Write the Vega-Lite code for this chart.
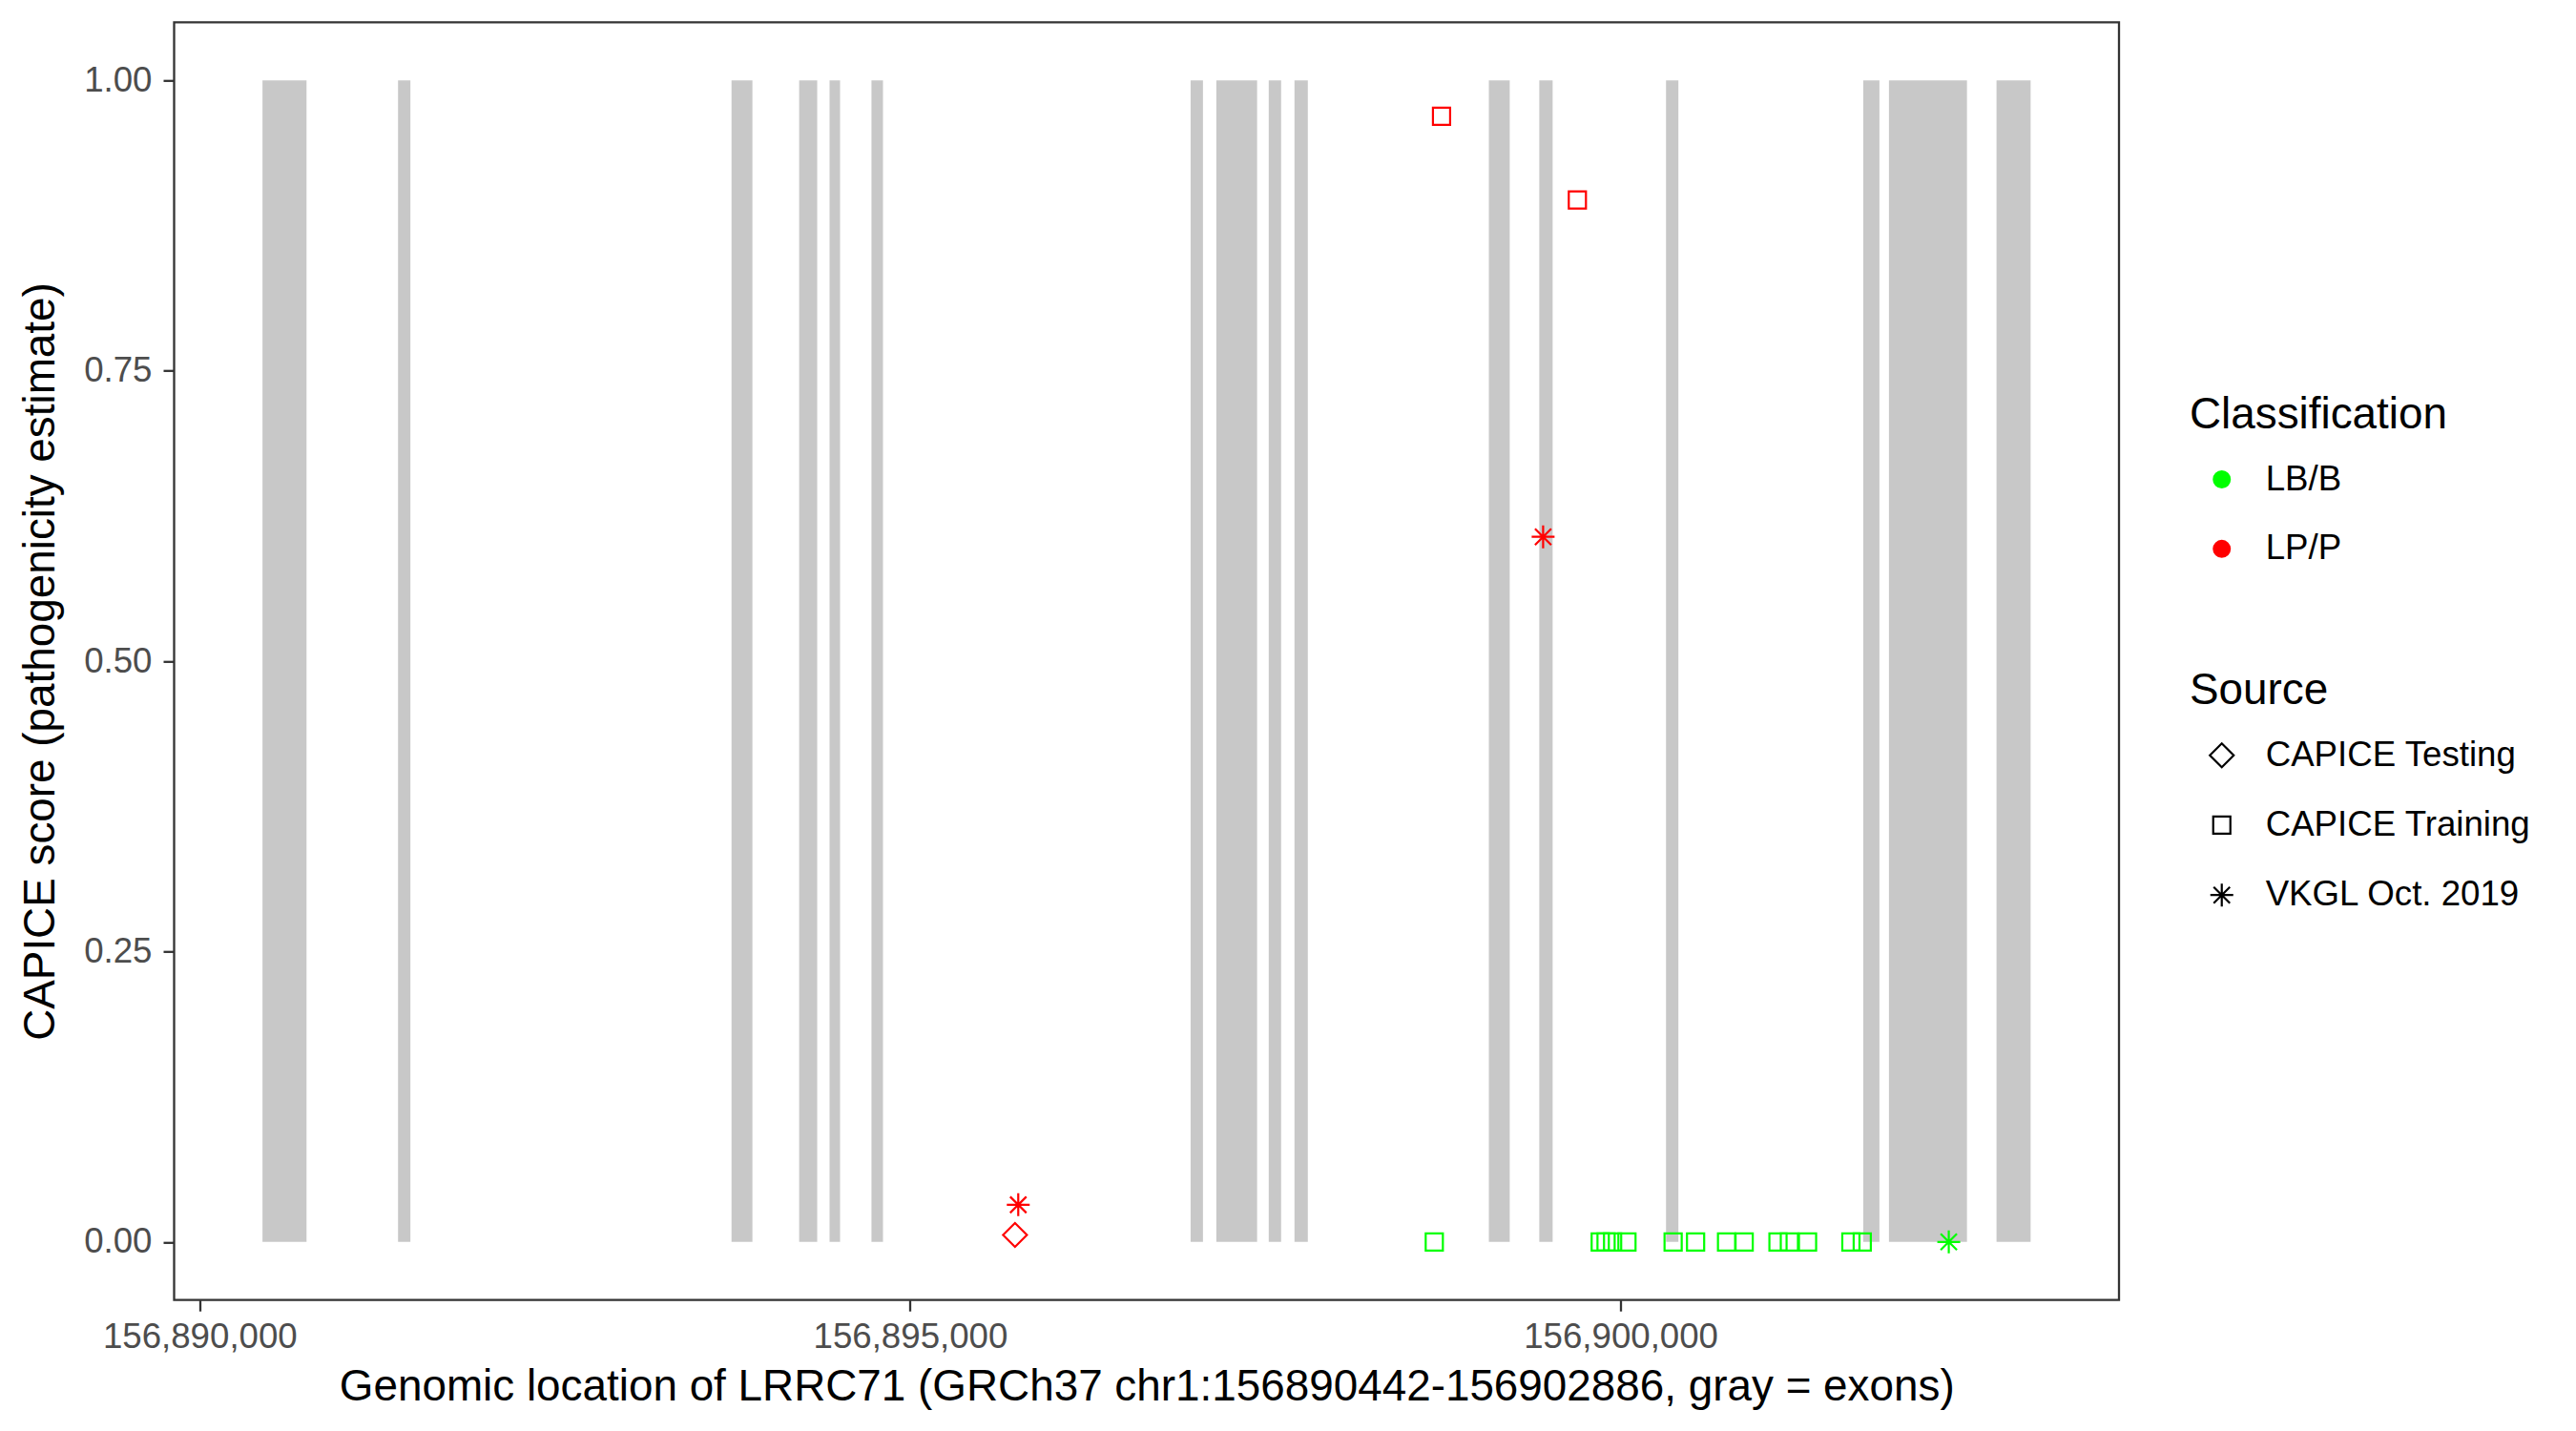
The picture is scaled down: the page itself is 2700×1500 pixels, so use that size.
{
  "$schema": "https://vega.github.io/schema/vega-lite/v6.json",
  "width": 2038.5,
  "height": 1339.4,
  "autosize": {"type": "none"},
  "padding": {"left": 182.5, "top": 23.3, "right": 479, "bottom": 137.3},
  "background": "white",
  "config": {
    "font": "Liberation Sans",
    "view": {"stroke": "#333333", "strokeWidth": 2.3},
    "axis": {
      "grid": false,
      "domain": false,
      "tickColor": "#333333",
      "tickWidth": 2.3,
      "tickSize": 11.5,
      "labelFont": "Liberation Sans",
      "labelFontSize": 36.67,
      "labelColor": "#4D4D4D",
      "labelLimit": 0,
      "titleFont": "Liberation Sans",
      "titleFontSize": 45.83,
      "titleFontWeight": "normal",
      "titleColor": "black",
      "titleLimit": 0
    },
    "legend": {
      "padding": 0,
      "titleFont": "Liberation Sans",
      "titleFontSize": 45.83,
      "titleFontWeight": "normal",
      "titleColor": "black",
      "titleLimit": 0,
      "labelFont": "Liberation Sans",
      "labelFontSize": 36.67,
      "labelColor": "black",
      "labelLimit": 0,
      "titlePadding": 25.7,
      "rowPadding": 35.2,
      "symbolOffset": 15.4,
      "labelOffset": 27.6
    }
  },
  "datasets": {
    "exons": [
      {"start": 156890442, "end": 156890752},
      {"start": 156891396, "end": 156891483},
      {"start": 156893743, "end": 156893890},
      {"start": 156894219, "end": 156894346},
      {"start": 156894433, "end": 156894507},
      {"start": 156894728, "end": 156894809},
      {"start": 156896974, "end": 156897061},
      {"start": 156897155, "end": 156897442},
      {"start": 156897524, "end": 156897611},
      {"start": 156897705, "end": 156897799},
      {"start": 156899073, "end": 156899220},
      {"start": 156899428, "end": 156899522},
      {"start": 156900320, "end": 156900407},
      {"start": 156901708, "end": 156901822},
      {"start": 156901889, "end": 156902438},
      {"start": 156902646, "end": 156902886}
    ],
    "variants": [
      {"pos": 156898740, "score": 0.969, "classification": "LP/P", "source": "CAPICE Training"},
      {"pos": 156899696, "score": 0.897, "classification": "LP/P", "source": "CAPICE Training"},
      {"pos": 156899455, "score": 0.607, "classification": "LP/P", "source": "VKGL Oct. 2019"},
      {"pos": 156895761, "score": 0.032, "classification": "LP/P", "source": "VKGL Oct. 2019"},
      {"pos": 156895738, "score": 0.006, "classification": "LP/P", "source": "CAPICE Testing"},
      {"pos": 156898689, "score": 0.0, "classification": "LB/B", "source": "CAPICE Training"},
      {"pos": 156899857, "score": 0.0, "classification": "LB/B", "source": "CAPICE Training"},
      {"pos": 156899898, "score": 0.0, "classification": "LB/B", "source": "CAPICE Training"},
      {"pos": 156899944, "score": 0.0, "classification": "LB/B", "source": "CAPICE Training"},
      {"pos": 156900045, "score": 0.0, "classification": "LB/B", "source": "CAPICE Training"},
      {"pos": 156900370, "score": 0.0, "classification": "LB/B", "source": "CAPICE Training"},
      {"pos": 156900528, "score": 0.0, "classification": "LB/B", "source": "CAPICE Training"},
      {"pos": 156900746, "score": 0.0, "classification": "LB/B", "source": "CAPICE Training"},
      {"pos": 156900870, "score": 0.0, "classification": "LB/B", "source": "CAPICE Training"},
      {"pos": 156901108, "score": 0.0, "classification": "LB/B", "source": "CAPICE Training"},
      {"pos": 156901188, "score": 0.0, "classification": "LB/B", "source": "CAPICE Training"},
      {"pos": 156901316, "score": 0.0, "classification": "LB/B", "source": "CAPICE Training"},
      {"pos": 156901621, "score": 0.0, "classification": "LB/B", "source": "CAPICE Training"},
      {"pos": 156901701, "score": 0.0, "classification": "LB/B", "source": "CAPICE Training"},
      {"pos": 156902310, "score": 0.0, "classification": "LB/B", "source": "VKGL Oct. 2019"}
    ]
  },
  "layer": [
    {
      "data": {"name": "exons"},
      "mark": {"type": "rect", "color": "#C8C8C8"},
      "encoding": {
        "x": {
          "field": "start",
          "type": "quantitative",
          "scale": {"domain": [156889820, 156903508], "nice": false, "zero": false},
          "axis": {
            "title": "Genomic location of LRRC71 (GRCh37 chr1:156890442-156902886, gray = exons)",
            "values": [156890000, 156895000, 156900000],
            "format": ",d",
            "labelFlush": false,
            "labelOverlap": false,
            "labelPadding": 9.5,
            "titlePadding": 11
          }
        },
        "x2": {"field": "end"},
        "y": {
          "datum": 0,
          "type": "quantitative",
          "scale": {"domain": [-0.05, 1.05], "nice": false, "zero": false},
          "axis": {
            "title": "CAPICE score (pathogenicity estimate)",
            "values": [0, 0.25, 0.5, 0.75, 1],
            "format": ".2f",
            "labelPadding": 12,
            "titlePadding": 21
          }
        },
        "y2": {"datum": 1}
      }
    },
    {
      "data": {"name": "variants"},
      "mark": {"type": "point", "filled": false, "size": 400, "strokeWidth": 2.2, "opacity": 1},
      "encoding": {
        "x": {"field": "pos", "type": "quantitative"},
        "y": {"field": "score", "type": "quantitative"},
        "color": {
          "field": "classification",
          "type": "nominal",
          "scale": {"domain": ["LB/B", "LP/P"], "range": ["#00FF00", "#FF0000"]},
          "legend": {
            "title": "Classification",
            "orient": "none",
            "legendX": 2112.5,
            "legendY": 389.4,
            "rowPadding": 23.8,
            "symbolSize": 90.25,
            "symbolStrokeWidth": 9.5,
            "symbolType": "circle",
            "symbolOpacity": 1,
            "encode": {
              "symbols": {
                "stroke": {"signal": "datum.value === 'LB/B' ? '#00FF00' : '#FF0000'"},
                "strokeWidth": {"value": 9.5},
                "shape": {"value": "circle"}
              }
            }
          }
        },
        "shape": {
          "field": "source",
          "type": "nominal",
          "scale": {
            "domain": ["CAPICE Testing", "CAPICE Training", "VKGL Oct. 2019"],
            "range": [
              "M-1.25,0L0,-1.25L1.25,0L0,1.25Z",
              "M-0.9,-0.9L0.9,-0.9L0.9,0.9L-0.9,0.9Z",
              "M0,-1.2L0,1.2M-1.2,0L1.2,0M-0.85,-0.85L0.85,0.85M-0.85,0.85L0.85,-0.85"
            ]
          },
          "legend": {
            "title": "Source",
            "orient": "none",
            "legendX": 2112.5,
            "legendY": 678.6,
            "symbolSize": 400,
            "symbolStrokeColor": "black",
            "symbolFillColor": "transparent",
            "symbolStrokeWidth": 2.2,
            "symbolOpacity": 1,
            "encode": {
              "symbols": {
                "stroke": {"value": "black"},
                "fill": {"value": "transparent"}
              }
            }
          }
        }
      }
    }
  ]
}
